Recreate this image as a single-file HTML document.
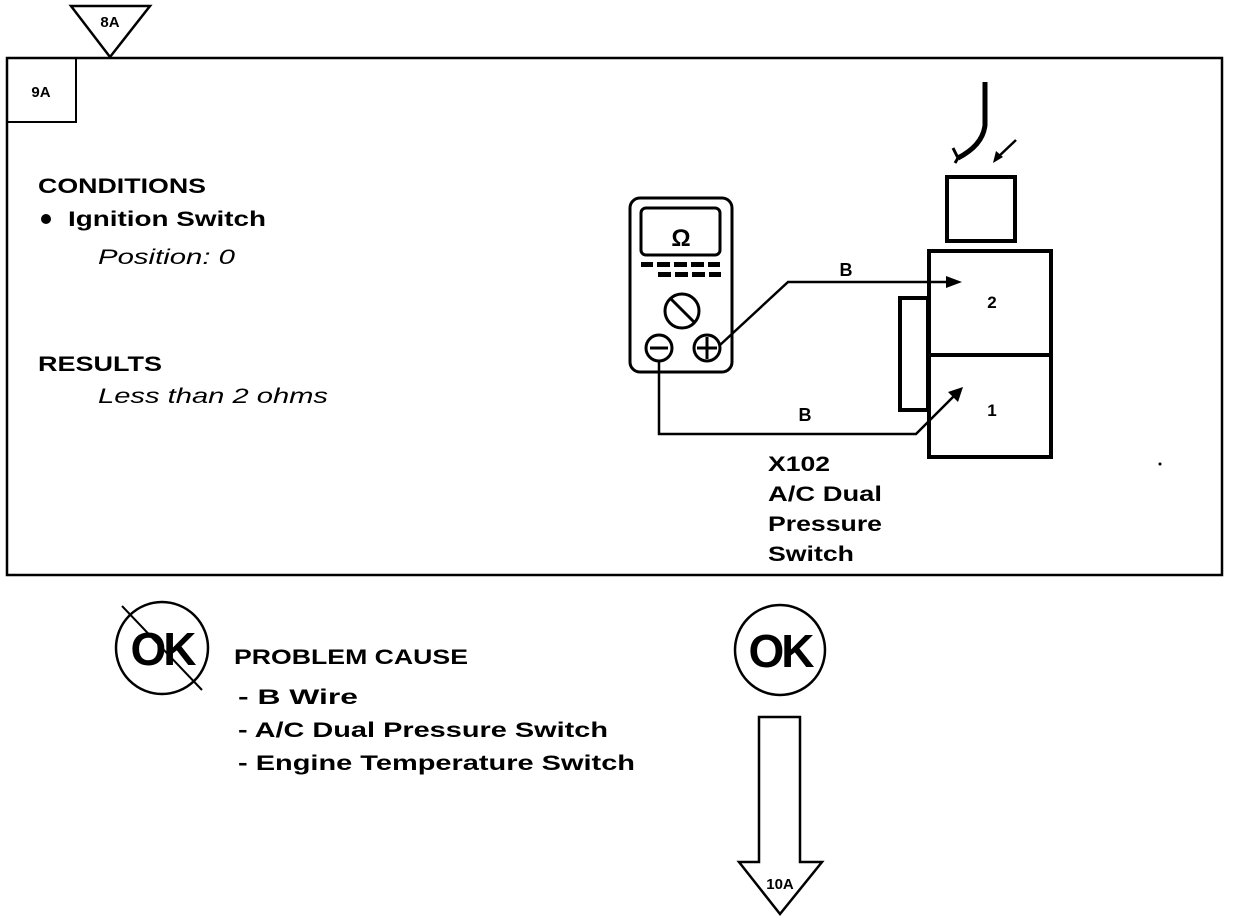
<!DOCTYPE html>
<html><head><style>
html,body{margin:0;padding:0;background:#fff;}
svg{display:block;}
text{font-family:"Liberation Sans",Arial,sans-serif;font-weight:bold;fill:#000;}
.it{font-style:italic;font-weight:normal;}
</style></head><body>
<svg width="1248" height="924" viewBox="0 0 1248 924" xmlns="http://www.w3.org/2000/svg">
<rect x="7" y="58" width="1215" height="517" fill="none" stroke="#000" stroke-width="2.5"/>
<polygon points="71,6 150,6 110,57" fill="#fff" stroke="#000" stroke-width="2.5"/>
<text x="110" y="27" font-size="15" text-anchor="middle">8A</text>
<rect x="7" y="58" width="69" height="64" fill="none" stroke="#000" stroke-width="2"/>
<text x="41" y="97" font-size="15" text-anchor="middle">9A</text>

<text x="38" y="193" font-size="21" textLength="168" lengthAdjust="spacingAndGlyphs">CONDITIONS</text>
<circle cx="46" cy="219" r="5"/>
<text x="68" y="226" font-size="21" textLength="198" lengthAdjust="spacingAndGlyphs">Ignition Switch</text>
<text x="98" y="264" font-size="21" class="it" textLength="137" lengthAdjust="spacingAndGlyphs">Position: 0</text>
<text x="38" y="371" font-size="21" textLength="124" lengthAdjust="spacingAndGlyphs">RESULTS</text>
<text x="98" y="403" font-size="21" class="it" textLength="230" lengthAdjust="spacingAndGlyphs">Less than 2 ohms</text>

<!-- multimeter -->
<rect x="630" y="198" width="102" height="174" rx="10" fill="none" stroke="#000" stroke-width="3"/>
<rect x="641" y="208" width="79" height="47" rx="5" fill="none" stroke="#000" stroke-width="3"/>
<text x="681" y="246" font-size="24" text-anchor="middle">Ω</text>
<g fill="#000">
<rect x="641" y="262" width="12" height="5"/><rect x="657" y="262" width="13" height="5"/><rect x="674" y="262" width="13" height="5"/><rect x="691" y="262" width="13" height="5"/><rect x="708" y="262" width="12" height="5"/>
<rect x="658" y="272" width="13" height="5"/><rect x="675" y="272" width="13" height="5"/><rect x="692" y="272" width="13" height="5"/><rect x="709" y="272" width="12" height="5"/>
</g>
<circle cx="682" cy="311" r="17" fill="none" stroke="#000" stroke-width="3"/>
<line x1="671" y1="299" x2="694" y2="322" stroke="#000" stroke-width="3"/>
<circle cx="659" cy="348" r="13" fill="none" stroke="#000" stroke-width="3"/>
<line x1="650" y1="348" x2="668" y2="348" stroke="#000" stroke-width="3"/>
<circle cx="707" cy="348" r="13" fill="none" stroke="#000" stroke-width="3"/>
<line x1="697" y1="348" x2="717" y2="348" stroke="#000" stroke-width="3"/>
<line x1="707" y1="337" x2="707" y2="359" stroke="#000" stroke-width="3"/>

<!-- switch -->
<rect x="900" y="298" width="28" height="112" fill="none" stroke="#000" stroke-width="4"/>
<rect x="929" y="251" width="122" height="206" fill="#fff" stroke="#000" stroke-width="4"/>
<line x1="929" y1="355" x2="1051" y2="355" stroke="#000" stroke-width="4"/>
<text x="992" y="308" font-size="17" text-anchor="middle">2</text>
<text x="992" y="416" font-size="17" text-anchor="middle">1</text>
<rect x="947" y="177" width="68" height="64" fill="none" stroke="#000" stroke-width="4"/>
<path d="M985,82 L985,125 Q983,145 958,158" fill="none" stroke="#000" stroke-width="5"/>
<path d="M953,148 L958,158 L955,163" fill="none" stroke="#000" stroke-width="3"/>
<line x1="1016" y1="140" x2="997" y2="158" stroke="#000" stroke-width="2.5"/>
<polygon points="993,163 996,151 1003,157" fill="#000"/>

<!-- wires -->
<polyline points="720,345 788,282 952,282" fill="none" stroke="#000" stroke-width="2.5"/>
<polygon points="962,282 946,276 946,288" fill="#000"/>
<text x="846" y="276" font-size="18" text-anchor="middle">B</text>
<polyline points="659,361 659,434 916,434 955,395" fill="none" stroke="#000" stroke-width="2.5"/>
<polygon points="963,387 948,392 958,402" fill="#000"/>
<text x="805" y="421" font-size="18" text-anchor="middle">B</text>

<text x="768" y="471" font-size="21" textLength="62" lengthAdjust="spacingAndGlyphs">X102</text>
<text x="768" y="501" font-size="21" textLength="114" lengthAdjust="spacingAndGlyphs">A/C Dual</text>
<text x="768" y="531" font-size="21" textLength="114" lengthAdjust="spacingAndGlyphs">Pressure</text>
<text x="768" y="561" font-size="21" textLength="86" lengthAdjust="spacingAndGlyphs">Switch</text>
<circle cx="1160" cy="464" r="1.5"/>

<!-- bottom -->
<circle cx="162" cy="648" r="46" fill="none" stroke="#000" stroke-width="2.5"/>
<text x="162" y="665" font-size="46" text-anchor="middle" letter-spacing="-3">OK</text>
<line x1="122" y1="606" x2="202" y2="690" stroke="#000" stroke-width="2"/>
<text x="234" y="664" font-size="21" textLength="234" lengthAdjust="spacingAndGlyphs">PROBLEM CAUSE</text>
<text x="238" y="704" font-size="21" textLength="120" lengthAdjust="spacingAndGlyphs">-  B  Wire</text>
<text x="238" y="737" font-size="21" textLength="370" lengthAdjust="spacingAndGlyphs">-  A/C Dual Pressure Switch</text>
<text x="238" y="770" font-size="21" textLength="397" lengthAdjust="spacingAndGlyphs">-  Engine Temperature Switch</text>

<circle cx="780" cy="650" r="45" fill="none" stroke="#000" stroke-width="2.5"/>
<text x="780" y="667" font-size="46" text-anchor="middle" letter-spacing="-3">OK</text>
<polygon points="759,717 800,717 800,862 822,862 780,914 739,862 759,862" fill="#fff" stroke="#000" stroke-width="2.5"/>
<text x="780" y="889" font-size="15" text-anchor="middle">10A</text>
</svg>
</body></html>
